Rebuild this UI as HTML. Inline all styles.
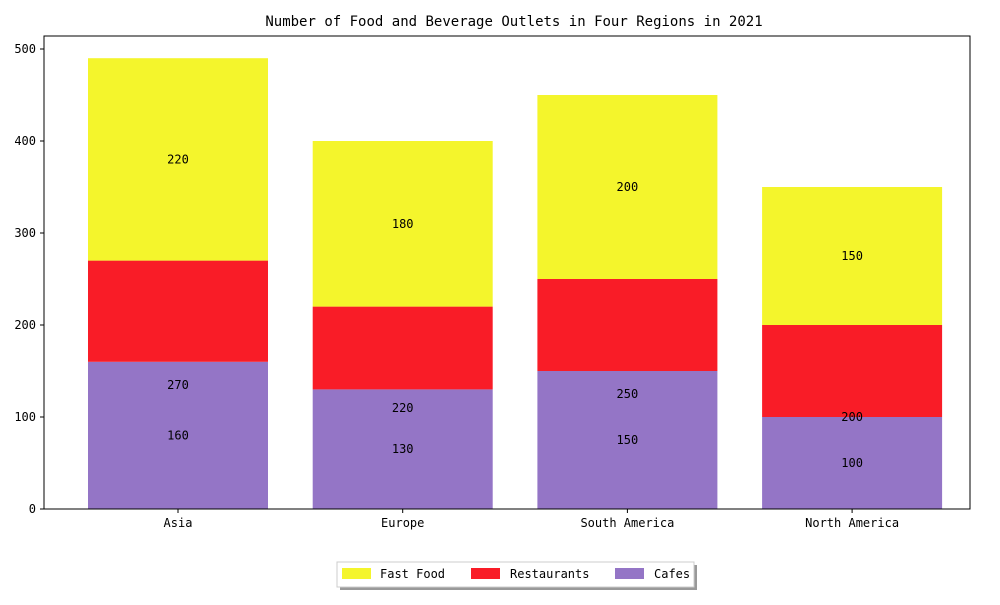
<!DOCTYPE html>
<html><head><meta charset="utf-8"><style>
body{margin:0;background:#fff}
svg text{font-family:"DejaVu Sans Mono","WenQuanYi Zen Hei",monospace;fill:#000}
</style></head><body>
<svg id="c" width="1000" height="600" xmlns="http://www.w3.org/2000/svg">
<text x="514" y="26" font-size="14" text-anchor="middle">Number of Food and Beverage Outlets in Four Regions in 2021</text>
<g id="bars"></g>
<g id="axes"></g>
<g>
<rect x="340" y="565" width="357" height="25" fill="#999"/>
<rect x="337" y="562" width="357" height="25" fill="#fff" stroke="#ccc"/>
<rect x="342" y="568" width="29" height="11" fill="#f4f52c"/>
<text x="380" y="578" font-size="12">Fast Food</text>
<rect x="471" y="568" width="29" height="11" fill="#f91c27"/>
<text x="510" y="578" font-size="12">Restaurants</text>
<rect x="615" y="568" width="29" height="11" fill="#9475c6"/>
<text x="654" y="578" font-size="12">Cafes</text>
</g>
</svg>
<script>
const categories=["Asia","Europe","South America","North America"];
const cafes=[160,130,150,100];
const restaurants=[110,90,100,100];
const fastFood=[220,180,200,150];
const yTicks=[0,100,200,300,400,500];
const NS="http://www.w3.org/2000/svg";
const y0=509,ky=0.92,x0=178,dx=224.7,bw=180;
const Y=v=>y0-v*ky, X=i=>x0+i*dx;
function mk(t,a,p){const e=document.createElementNS(NS,t);for(const k in a)e.setAttribute(k,a[k]);p.appendChild(e);return e;}
const bars=document.getElementById('bars'),axes=document.getElementById('axes');
categories.forEach((c,i)=>{
  const cx=X(i);const c1=cafes[i],c2=c1+restaurants[i],c3=c2+fastFood[i];
  let r=mk('rect',{x:cx-bw/2,y:Y(c1),width:bw,height:c1*ky,fill:'#9475c6'},bars);
  
  
  r=mk('rect',{x:cx-bw/2,y:Y(c2),width:bw,height:(c2-c1)*ky,fill:'#f91c27'},bars);
  
  
  r=mk('rect',{x:cx-bw/2,y:Y(c3),width:bw,height:(c3-c2)*ky,fill:'#f4f52c'},bars);
  
  
  [[c1,c1/2],[c2,c2/2],[fastFood[i],c2+fastFood[i]/2]].forEach(([v,p],j)=>{
    const t=mk('text',{x:cx,y:Y(p)+4,'font-size':12,'text-anchor':'middle'},bars);t.textContent=v;
    
    
  });
  mk('line',{x1:cx,x2:cx,y1:y0,y2:y0+4,stroke:'#000'},axes);
  const t=mk('text',{x:cx,y:527,'font-size':12,'text-anchor':'middle'},axes);t.textContent=c;
  
  
});
yTicks.forEach(v=>{
  mk('line',{x1:40,x2:44,y1:Y(v),y2:Y(v),stroke:'#000'},axes);
  const t=mk('text',{x:36,y:Y(v)+4,'font-size':12,'text-anchor':'end'},axes);t.textContent=v;
  
  
});
const f=mk('rect',{x:44,y:36,width:926,height:473,fill:'none',stroke:'#000'},axes);


</script>
</body></html>
